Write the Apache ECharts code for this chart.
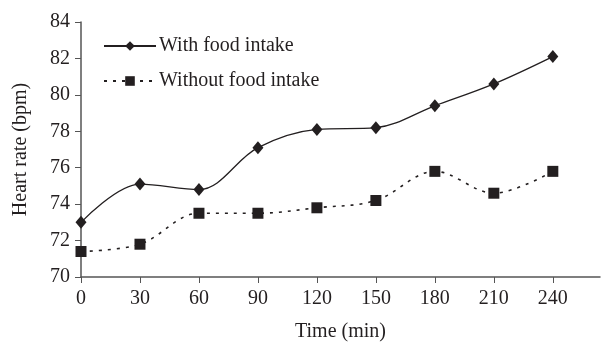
<!DOCTYPE html>
<html>
<head>
<meta charset="utf-8">
<script src="https://cdn.jsdelivr.net/npm/echarts@6/dist/echarts.min.js"></script>
<style>html,body{margin:0;padding:0;background:#fff;}#c{width:601px;height:347px;}</style>
</head>
<body>
<div id="c"></div>
<script>
var times = [0, 30, 60, 90, 120, 150, 180, 210, 240];
var withFood = [73.0, 75.1, 74.8, 77.1, 78.1, 78.2, 79.4, 80.6, 82.1];
var withoutFood = [71.4, 71.8, 73.5, 73.5, 73.8, 74.2, 75.8, 74.6, 75.8];
var seriesNames = ['With food intake', 'Without food intake'];
var xName = 'Time (min)';
var yName = 'Heart rate (bpm)';

function pairs(xs, ys) { return xs.map(function (x, i) { return [x, ys[i]]; }); }

var font = '"Liberation Serif", "DejaVu Serif", serif';
var ink = '#231f20';
var axisGray = '#555555';
var fs = 20;

var chart = echarts.init(document.getElementById('c'));
chart.setOption({
  animation: false,
  backgroundColor: '#ffffff',
  textStyle: { fontFamily: font, color: ink },
  grid: { left: 81, top: 22, right: 1, bottom: 69, containLabel: false },
  legend: {
    left: 98, top: 31, orient: 'vertical',
    itemWidth: 52, itemHeight: 12, itemGap: 15,
    textStyle: { fontFamily: font, fontSize: fs, color: ink, padding: [0, 0, 0, -2] },
    data: seriesNames
  },
  xAxis: {
    type: 'value', min: 0, max: 264, interval: 30,
    name: xName, nameLocation: 'middle', nameGap: 45,
    nameTextStyle: { fontFamily: font, fontSize: fs, color: ink },
    axisLine: { show: true, lineStyle: { color: axisGray, width: 1.5 } },
    axisTick: { show: true, inside: false, length: 6, lineStyle: { color: axisGray, width: 1 } },
    axisLabel: { fontFamily: font, fontSize: fs, color: ink, margin: 12, showMaxLabel: false },
    splitLine: { show: false }
  },
  yAxis: {
    type: 'value', min: 70, max: 84, interval: 2,
    name: yName, nameLocation: 'middle', nameGap: 50, nameRotate: 90,
    nameTextStyle: { fontFamily: font, fontSize: fs, color: ink },
    axisLine: { show: true, lineStyle: { color: axisGray, width: 1.5 } },
    axisTick: { show: true, inside: false, length: 6, lineStyle: { color: axisGray, width: 1 } },
    axisLabel: { fontFamily: font, fontSize: fs, color: ink, margin: 11 },
    splitLine: { show: false }
  },
  series: [
    {
      name: seriesNames[0], type: 'line', smooth: 0.35,
      data: pairs(times, withFood),
      symbol: 'diamond', symbolSize: [11, 13],
      itemStyle: { color: ink },
      lineStyle: { color: ink, width: 1.3, type: 'solid' }
    },
    {
      name: seriesNames[1], type: 'line', smooth: 0.35,
      data: pairs(times, withoutFood),
      symbol: 'rect', symbolSize: 11,
      itemStyle: { color: ink },
      lineStyle: { color: ink, width: 1.6, type: [3, 6] }
    }
  ]
});
</script>
</body>
</html>
